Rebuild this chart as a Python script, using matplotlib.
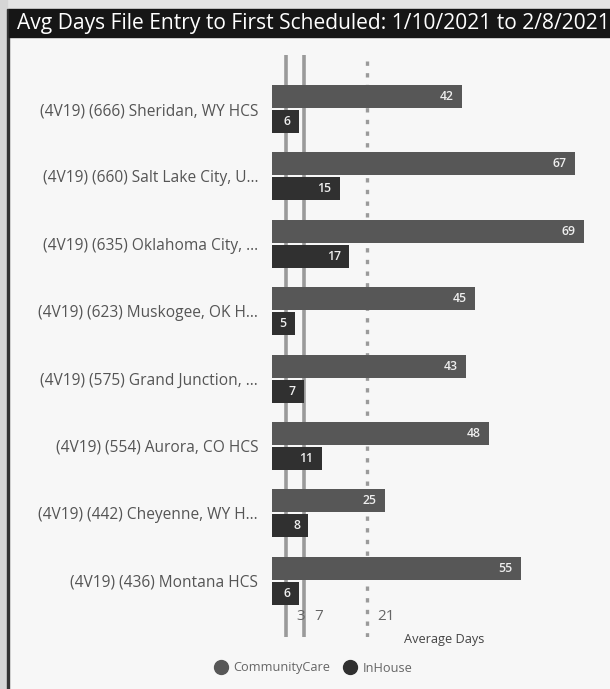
import numpy as np
import matplotlib.pyplot as plt
from matplotlib.patches import Rectangle
from matplotlib.lines import Line2D

plt.rcParams['font.family'] = ['Open Sans', 'DejaVu Sans']

categories = [
    "(4V19) (666) Sheridan, WY HCS",
    "(4V19) (660) Salt Lake City, U...",
    "(4V19) (635) Oklahoma City, ...",
    "(4V19) (623) Muskogee, OK H...",
    "(4V19) (575) Grand Junction, ...",
    "(4V19) (554) Aurora, CO HCS",
    "(4V19) (442) Cheyenne, WY H...",
    "(4V19) (436) Montana HCS",
]
community_care = [42, 67, 69, 45, 43, 48, 25, 55]
in_house = [6, 15, 17, 5, 7, 11, 8, 6]
ref_solid = [3, 7]
ref_dashed = [21]

W, H = 610, 689
fig = plt.figure(figsize=(W / 100, H / 100), dpi=100, facecolor="#f7f7f7")

# frame pieces (pixel coords -> figure fraction)
def prect(x0, y0, x1, y1, color):
    fig.patches.append(Rectangle((x0 / W, 1 - y1 / H), (x1 - x0) / W, (y1 - y0) / H,
                                 transform=fig.transFigure, color=color, zorder=0))

prect(0, 0, W, 9, "#e4e4e4")
prect(0, 0, 7, H, "#d6d6d6")
prect(7, 9, 9, H, "#333333")
prect(9, 9, W, 37, "#161616")
fig.text(17 / W, 1 - 23.5 / H, "Avg Days File Entry to First Scheduled: 1/10/2021 to 2/8/2021",
         color="white", fontsize=15.1, va="center", ha="left")

# axes placed so x=0 sits at px 272, 4.52 px per day
ax_l, ax_r, ax_t, ax_b = 272, 600, 55, 637
ax = fig.add_axes([ax_l / W, 1 - ax_b / H, (ax_r - ax_l) / W, (ax_b - ax_t) / H])
ax.set_facecolor("none")
ax.set_xlim(0, (ax_r - ax_l) / 4.52)
y0, pitch = 109, 67.4
ax.set_ylim((ax_b - y0) / pitch, (ax_t - y0) / pitch)
for s in ax.spines.values():
    s.set_visible(False)
ax.set_xticks([])

y = np.arange(len(categories))
h = 0.34
off = 0.185
ax.barh(y - off, community_care, height=h, color="#575757", zorder=3)
ax.barh(y + off, in_house, height=h, color="#303030", zorder=3)

for yi, v in zip(y, community_care):
    ax.text(v - 1.8, yi - off, str(v), color="#eeeeee", fontsize=8.8, fontweight="semibold",
            ha="right", va="center", zorder=4)
for yi, v in zip(y, in_house):
    ax.text(v - 1.8, yi + off, str(v), color="#eeeeee", fontsize=8.8, fontweight="semibold",
            ha="right", va="center", zorder=4)

for v in ref_solid:
    ax.axvline(v, color="#9a9a9a", lw=2.6, zorder=1)
for v in ref_dashed:
    ax.axvline(v, color="#9a9a9a", lw=2.4, ls=(0, (1.3, 2.2)), zorder=1)

lab_y = (617 - y0) / pitch
ax.text(5.5, lab_y, "3", color="#666666", fontsize=11, ha="left", va="center", zorder=2)
ax.text(9.3, lab_y, "7", color="#666666", fontsize=11, ha="left", va="center", zorder=2)
ax.text(23.2, lab_y, "21", color="#666666", fontsize=11, ha="left", va="center", zorder=2)

ax.set_yticks(y)
ax.set_yticklabels(categories, fontsize=11.2, color="#555555")
ax.tick_params(axis="y", length=0, pad=10)

fig.text(444 / W, 1 - 640 / H, "Average Days", fontsize=9.2, color="#444444", ha="center", va="center")

handles = [Line2D([], [], marker="o", ls="", color="#575757", markersize=10),
           Line2D([], [], marker="o", ls="", color="#303030", markersize=10)]
fig.legend(handles, ["CommunityCare", "InHouse"], loc="center", bbox_to_anchor=(310 / W, 1 - 668 / H),
           ncol=2, frameon=False, fontsize=9.2, handletextpad=0.0, columnspacing=0.5,
           labelcolor="#666666")

fig.savefig("out.png", dpi=100, facecolor=fig.get_facecolor())
